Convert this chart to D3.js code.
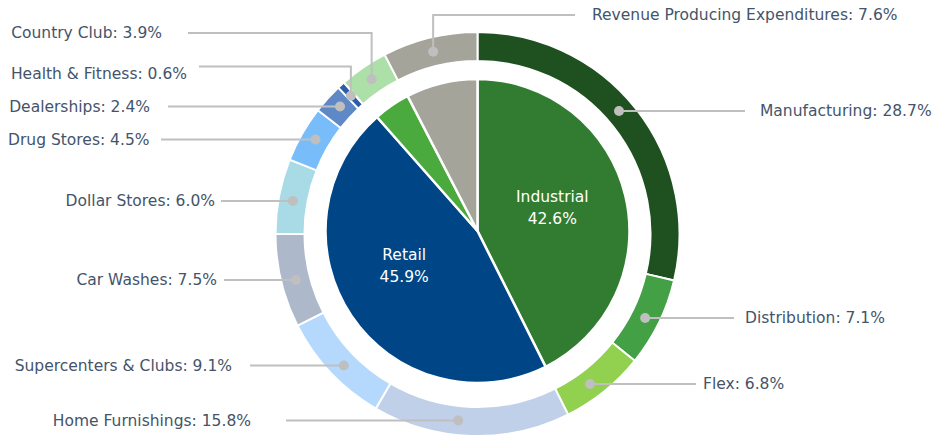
<!DOCTYPE html>
<html>
<head>
<meta charset="utf-8">
<script src="https://cdn.jsdelivr.net/npm/d3@7"></script>
<style>
  body { margin: 0; background: #fff; }
  svg text { font-family: "DejaVu Sans", sans-serif; }
</style>
</head>
<body>
<div id="chart"></div>
<script>
// Data
const outerNames = ["Manufacturing", "Distribution", "Flex", "Home Furnishings", "Supercenters & Clubs",
    "Car Washes", "Dollar Stores", "Drug Stores", "Dealerships", "Health & Fitness", "Country Club",
    "Revenue Producing Expenditures"];
const outerValues = [28.7, 7.1, 6.8, 15.8, 9.1, 7.5, 6.0, 4.5, 2.4, 0.6, 3.9, 7.6];
const innerNames = ["Industrial", "Retail", "Country Club", "Revenue Producing Expenditures"];
const innerValues = [42.6, 45.9, 3.9, 7.6];

// Colors
const outerColors = ["#1f5120", "#43a045", "#92d050", "#c0d0e8", "#b4d9fc", "#adb8cb",
    "#a9dbe7", "#78bdfa", "#5f88c6", "#2b5ea6", "#addfa8", "#a5a49b"];
const innerColors = ["#327c32", "#004686", "#4aaa3e", "#a5a49b"];

// Label layout: side, text x, text y, line end x, line y (for elbow leaders)
const labelLayout = [
    { side: "r", x: 760, y: 111, lx: 745, kind: "h" },
    { side: "r", x: 745, y: 318, lx: 734, kind: "h" },
    { side: "r", x: 703, y: 384, lx: 696, kind: "h" },
    { side: "l", x: 251, y: 420.5, lx: 286, kind: "h" },
    { side: "l", x: 232, y: 365.5, lx: 250, kind: "h" },
    { side: "l", x: 217, y: 280, lx: 224, kind: "h" },
    { side: "l", x: 215, y: 201, lx: 221, kind: "h" },
    { side: "l", x: 149.5, y: 139.5, lx: 161, kind: "h" },
    { side: "l", x: 150, y: 106.5, lx: 168, kind: "h" },
    { side: "l", x: 187, y: 74, lx: 199, ly: 66.5, kind: "v" },
    { side: "l", x: 162, y: 33, lx: 188, ly: 33, kind: "v" },
    { side: "r", x: 592, y: 15, lx: 575, ly: 15, kind: "v" }
];

const width = 938, height = 438;
const cx = 477.5, cy = 234;          // ring center
const pcy = 231;                      // pie center
const rOuter = 202, rInner = 173, rPie = 152;
const rMid = (rOuter + rInner) / 2;

const svg = d3.select("#chart").append("svg")
    .attr("width", width)
    .attr("height", height);

const pie = d3.pie().sort(null).value(d => d);

// Outer ring
const outerArcs = pie(outerValues);
const ringArc = d3.arc().innerRadius(rInner).outerRadius(rOuter);

svg.append("g")
    .attr("transform", `translate(${cx},${cy})`)
    .selectAll("path")
    .data(outerArcs)
    .enter().append("path")
    .attr("d", ringArc)
    .attr("fill", (d, i) => outerColors[i])
    .attr("stroke", "#fff")
    .attr("stroke-width", 2);

// Inner pie
const innerArcs = pie(innerValues);
const pieArc = d3.arc().innerRadius(0).outerRadius(rPie);

const pg = svg.append("g")
    .attr("transform", `translate(${cx},${pcy})`);

pg.selectAll("path")
    .data(innerArcs)
    .enter().append("path")
    .attr("d", pieArc)
    .attr("fill", (d, i) => innerColors[i])
    .attr("stroke", "#fff")
    .attr("stroke-width", 2.5);

// Inner labels (only the two big slices)
const innerLabelArc = d3.arc().innerRadius(80).outerRadius(80);
const innerNudge = [[-3, -6], [-7, -11]];
[0, 1].forEach(i => {
    const c = innerLabelArc.centroid(innerArcs[i]);
    const t = pg.append("text")
        .attr("x", c[0] + innerNudge[i][0])
        .attr("y", c[1] + innerNudge[i][1])
        .attr("text-anchor", "middle")
        .style("fill", "#fff")
        .style("font-size", "15.5px");
    t.append("tspan").attr("x", c[0] + innerNudge[i][0]).attr("dy", "-0.3em").text(innerNames[i]);
    t.append("tspan").attr("x", c[0] + innerNudge[i][0]).attr("dy", "1.4em")
        .text(innerValues[i].toFixed(1) + "%");
});

// Leader lines, dots and outer labels
const lg = svg.append("g");

outerArcs.forEach((a, i) => {
    const L = labelLayout[i];
    let ang;
    if (L.kind === "h") {
        let t = Math.acos(Math.max(-1, Math.min(1, -(L.y - cy) / rMid)));
        if (L.side === "l") t = 2 * Math.PI - t;
        const pad = (a.endAngle - a.startAngle) * 0.15;
        ang = Math.max(a.startAngle + pad, Math.min(a.endAngle - pad, t));
    } else {
        ang = (a.startAngle + a.endAngle) / 2;
    }
    const px = cx + rMid * Math.sin(ang);
    const py = cy - rMid * Math.cos(ang);

    let pts;
    if (L.kind === "h") {
        pts = [[L.lx, py], [px, py]];
    } else {
        pts = [[L.lx, L.ly], [px, L.ly], [px, py]];
    }

    lg.append("path")
        .attr("d", d3.line()(pts))
        .attr("fill", "none")
        .attr("stroke", "#bfbfbf")
        .attr("stroke-width", 2);

    lg.append("circle")
        .attr("cx", px)
        .attr("cy", py)
        .attr("r", 5)
        .attr("fill", "#bfbfbf");

    lg.append("text")
        .attr("x", L.x)
        .attr("y", L.y)
        .attr("dy", "0.35em")
        .attr("text-anchor", L.side === "l" ? "end" : "start")
        .style("fill", "#44546a")
        .style("font-size", "15.5px")
        .text(`${outerNames[i]}: ${outerValues[i].toFixed(1)}%`);
});
</script>
</body>
</html>
